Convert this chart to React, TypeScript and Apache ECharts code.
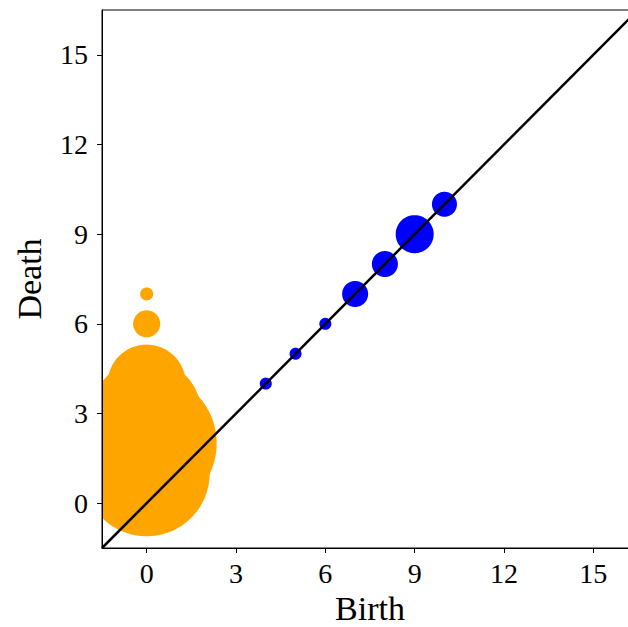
import React, { useEffect, useRef } from "react";
import * as echarts from "echarts";

// H0 features (orange): birth, death, marker diameter (px)
const h0Birth = [0, 0, 0, 0, 0, 0, 0];
const h0Death = [0, 1, 2, 3, 4, 6, 7];
const h0Size = [60, 126, 140, 109, 78, 27, 13];

// H1 features (blue)
const h1Birth = [4, 5, 6, 7, 8, 9, 10];
const h1Death = [4, 5, 6, 7, 8, 9, 10];
const h1Size = [12, 12, 12, 26, 26, 38, 25];

const tickValues = [0, 3, 6, 9, 12, 15];
const axisMin = -1.5;
const axisMax = 16.5;

const FONT = "Liberation Serif";
const TICK_FONT = 28;
const NAME_FONT = 34;

export default function App() {
  const ref = useRef<HTMLDivElement>(null);
  useEffect(() => {
    if (!ref.current) return;
    const chart = echarts.init(ref.current, null, { renderer: "svg" });
    // circle clipped to the plotting area (clamping points onto the rect edges)
    const circleItem = (color: string) => (params: any, api: any) => {
      const p = api.coord([api.value(0), api.value(1)]);
      const r = api.value(2) / 2;
      const cs = params.coordSys;
      const x0 = cs.x;
      const x1 = cs.x + cs.width;
      const y0 = cs.y;
      const y1 = cs.y + cs.height;
      const pts: number[][] = [];
      const n = 144;
      for (let k = 0; k < n; k++) {
        const a = (k / n) * Math.PI * 2;
        const x = Math.min(x1, Math.max(x0, p[0] + r * Math.cos(a)));
        const y = Math.min(y1, Math.max(y0, p[1] + r * Math.sin(a)));
        pts.push([x, y]);
      }
      return {
        type: "polygon",
        shape: { points: pts },
        style: { fill: color },
      };
    };
    const labelStyle = {
      customValues: tickValues,
      color: "#000",
      fontFamily: FONT,
      fontSize: TICK_FONT,
    };
    const axisCommon = {
      type: "value",
      min: axisMin,
      max: axisMax,
      z: 10,
      splitLine: { show: false },
      axisLine: { show: true, onZero: false, lineStyle: { color: "#000", width: 1 } },
      axisTick: {
        show: true,
        customValues: tickValues,
        length: 5,
        lineStyle: { color: "#000", width: 1 },
      },
      nameLocation: "middle",
      nameTextStyle: { color: "#000", fontFamily: FONT, fontSize: NAME_FONT },
    };
    chart.setOption({
      animation: false,
      textStyle: { fontFamily: FONT },
      grid: {
        left: 102,
        top: 10,
        bottom: 79,
        right: -10,
        outerBoundsMode: "none",
        containLabel: false,
        show: true,
        borderColor: "#000",
        borderWidth: 1,
        backgroundColor: "transparent",
      },
      xAxis: {
        ...axisCommon,
        name: "Birth",
        nameGap: 43,
        axisLabel: { ...labelStyle, margin: 11 },
      },
      yAxis: {
        ...axisCommon,
        name: "Death",
        nameGap: 56,
        axisLabel: { ...labelStyle, margin: 14 },
      },
      series: [
        {
          type: "custom",
          renderItem: circleItem("#FFA500"),
          data: h0Birth.map((b, i) => [b, h0Death[i], h0Size[i]]),
        },
        {
          type: "custom",
          renderItem: circleItem("#0000FF"),
          data: h1Birth.map((b, i) => [b, h1Death[i], h1Size[i]]),
        },
        {
          type: "line",
          symbol: "none",
          lineStyle: { color: "#000", width: 2.5 },
          data: [
            [axisMin, axisMin],
            [axisMax, axisMax],
          ],
        },
      ],
    });
    return () => chart.dispose();
  }, []);
  return (
    <div
      ref={ref}
      style={{ width: 628, height: 627, position: "absolute", left: 0, top: 0 }}
    />
  );
}
